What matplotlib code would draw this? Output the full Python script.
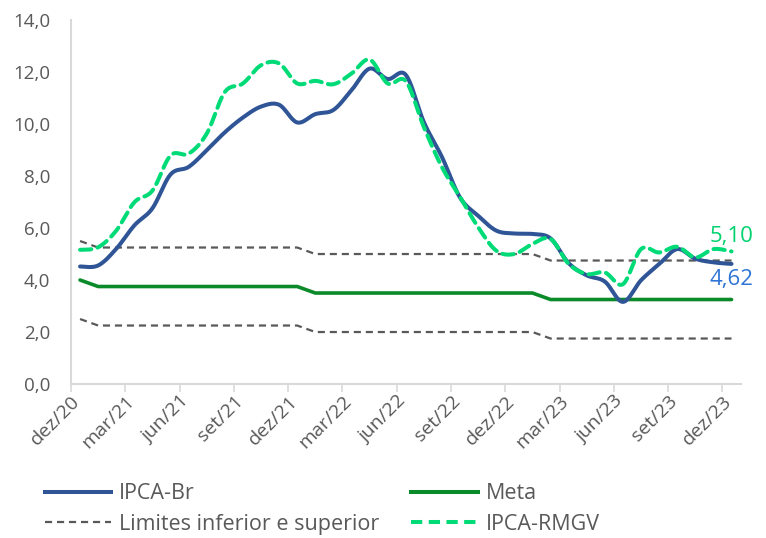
import numpy as np
import matplotlib
matplotlib.use("Agg")
import matplotlib.pyplot as plt
import matplotlib.transforms as mtransforms
from matplotlib.lines import Line2D

plt.rcParams['font.family'] = ['Open Sans', 'DejaVu Sans']

months = ["dez/20", "jan/21", "fev/21", "mar/21", "abr/21", "mai/21", "jun/21", "jul/21", "ago/21",
          "set/21", "out/21", "nov/21", "dez/21", "jan/22", "fev/22", "mar/22", "abr/22", "mai/22",
          "jun/22", "jul/22", "ago/22", "set/22", "out/22", "nov/22", "dez/22", "jan/23", "fev/23",
          "mar/23", "abr/23", "mai/23", "jun/23", "jul/23", "ago/23", "set/23", "out/23", "nov/23",
          "dez/23"]

ipca_br = [4.52, 4.56, 5.20, 6.10, 6.76, 8.06, 8.35, 8.99, 9.68, 10.25, 10.67, 10.74, 10.06,
           10.38, 10.54, 11.30, 12.13, 11.73, 11.89, 10.07, 8.73, 7.17, 6.47, 5.90, 5.79,
           5.77, 5.60, 4.65, 4.18, 3.94, 3.16, 3.99, 4.61, 5.19, 4.82, 4.68, 4.62]

ipca_rmgv = [5.16, 5.26, 5.90, 6.99, 7.44, 8.79, 8.86, 9.63, 11.23, 11.56, 12.26, 12.33, 11.56,
             11.66, 11.53, 11.94, 12.48, 11.56, 11.65, 9.88, 8.34, 7.19, 6.03, 5.13, 5.00,
             5.39, 5.58, 4.62, 4.23, 4.29, 3.84, 5.19, 5.06, 5.28, 4.87, 5.19, 5.10]

meta = [4.00] + [3.75] * 12 + [3.50] * 13 + [3.25] * 11
lim_sup = [m + 1.5 for m in meta]
lim_inf = [m - 1.5 for m in meta]

tick_labels = ["dez/20", "mar/21", "jun/21", "set/21", "dez/21", "mar/22", "jun/22",
               "set/22", "dez/22", "mar/23", "jun/23", "set/23", "dez/23"]

y_ticks = [0, 2, 4, 6, 8, 10, 12, 14]


def smooth(y, n=20):
    """Catmull-Rom rendering of a line (like Excel's smoothed line)."""
    y = np.asarray(y, float)
    x = np.arange(len(y), dtype=float)
    P = np.column_stack([x, y])
    P = np.vstack([P[0], P, P[-1]])
    out = []
    t = np.linspace(0, 1, n, endpoint=False)[:, None]
    for i in range(1, len(P) - 2):
        p0, p1, p2, p3 = P[i - 1], P[i], P[i + 1], P[i + 2]
        c1 = p1 + (p2 - p0) / 6
        c2 = p2 - (p3 - p1) / 6
        seg = ((1 - t) ** 3) * p1 + 3 * ((1 - t) ** 2) * t * c1 + 3 * (1 - t) * t ** 2 * c2 + t ** 3 * p2
        out.append(seg)
    out.append(P[-2][None, :])
    out = np.vstack(out)
    return out[:, 0], out[:, 1]


BLUE = '#2F5597'
GREEN = '#0B8A2A'
LGREEN = '#00DB78'
GRAY = '#595959'
TXT = '#595959'

fig = plt.figure(figsize=(7.66, 5.38), dpi=100)
ax = fig.add_axes([0.0927, 0.2862, 0.9668 - 0.0927, 0.9628 - 0.2862])

x = np.arange(len(months))
ax.plot(x, lim_sup, color=GRAY, lw=1.6, dashes=(3.2, 2.2), zorder=2)
ax.plot(x, lim_inf, color=GRAY, lw=1.6, dashes=(3.2, 2.2), zorder=2)
ax.plot(x, meta, color=GREEN, lw=2.6, zorder=3, solid_capstyle='round')
xs, ys = smooth(ipca_br)
ax.plot(xs, ys, color=BLUE, lw=2.9, zorder=4, solid_capstyle='round')
xs, ys = smooth(ipca_rmgv)
ax.plot(xs, ys, color=LGREEN, lw=2.9, dashes=(2.8, 1.6), zorder=5, dash_capstyle='round')

ax.set_xlim(-0.5, len(months) - 0.5)
ax.set_ylim(0, 14)
ax.set_yticks(y_ticks)
ax.set_yticklabels([f"{v:.1f}".replace('.', ',') for v in y_ticks], fontsize=13.5, color=TXT)
ax.tick_params(axis='y', length=0, pad=15)

tick_pos = [-0.5 + 3 * k for k in range(len(tick_labels))]
ax.set_xticks(tick_pos)
ax.set_xticklabels(tick_labels, fontsize=14, color=TXT, rotation=45, ha='right', va='top',
                   rotation_mode='anchor')
offset = mtransforms.ScaledTranslation(17 / 100, -23 / 100, fig.dpi_scale_trans)
for lab in ax.get_xticklabels():
    lab.set_transform(lab.get_transform() + offset)
ax.tick_params(axis='x', length=6, width=1.2, color='#D9D9D9', pad=0)

for s in ['top', 'right']:
    ax.spines[s].set_visible(False)
for s in ['left', 'bottom']:
    ax.spines[s].set_color('#D9D9D9')
    ax.spines[s].set_linewidth(1.5)

ax.annotate("5,10", (len(months) - 1, ipca_rmgv[-1]), xytext=(0, 3), textcoords='offset points',
            ha='center', va='bottom', fontsize=16, color='#00D26E')
ax.annotate("4,62", (len(months) - 1, ipca_br[-1]), xytext=(0, -4), textcoords='offset points',
            ha='center', va='top', fontsize=16, color='#2E75D6')

handles = [Line2D([], [], color=BLUE, lw=2.9),
           Line2D([], [], color=GRAY, lw=1.6, dashes=(3.2, 2.2)),
           Line2D([], [], color=GREEN, lw=2.9),
           Line2D([], [], color=LGREEN, lw=2.9, dashes=(2.8, 1.6))]
labels = ["IPCA-Br", "Limites inferior e superior", "Meta", "IPCA-RMGV"]
leg = fig.legend(handles, labels, ncol=2, loc='lower left', bbox_to_anchor=(0.033, -0.03),
                 frameon=False, fontsize=15.5, handlelength=3.1, handletextpad=0.35,
                 columnspacing=1.5, labelspacing=0.45)
for t in leg.get_texts():
    t.set_color(TXT)

fig.savefig("out.png", dpi=100)
